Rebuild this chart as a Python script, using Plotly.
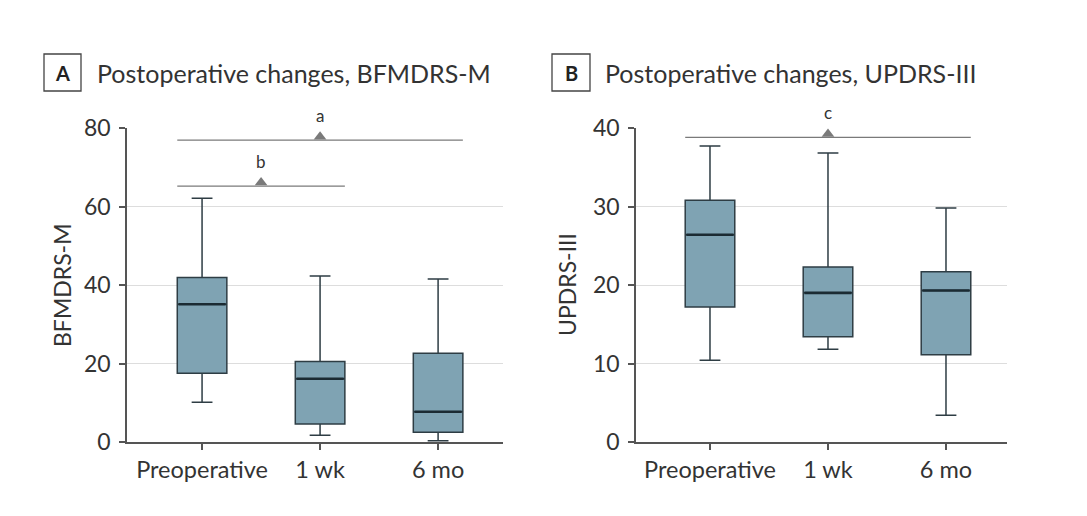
import plotly.graph_objects as go

# ---------------- data ----------------
categories = ["Preoperative", "1 wk", "6 mo"]

# Panel A: BFMDRS-M
a_lower = [10.1, 1.7, 0.3]
a_q1 = [17.5, 4.6, 2.5]
a_median = [35.1, 16.1, 7.7]
a_q3 = [41.9, 20.5, 22.6]
a_upper = [62.1, 42.3, 41.5]

# Panel B: UPDRS-III
b_lower = [10.4, 11.8, 3.4]
b_q1 = [17.2, 13.4, 11.1]
b_median = [26.4, 19.0, 19.3]
b_q3 = [30.8, 22.3, 21.7]
b_upper = [37.7, 36.8, 29.8]

a_ticks = [0, 20, 40, 60, 80]
b_ticks = [0, 10, 20, 30, 40]

# significance brackets: (label, y level, x start, x end, triangle x)
a_sig = [("a", 76.9, -0.21, 2.21, 1.0), ("b", 65.2, -0.21, 1.21, 0.5)]
b_sig = [("c", 38.8, -0.21, 2.21, 1.0)]

# ---------------- style ----------------
FONT = "Lato"
TXT = "#333333"
FILL = "#7fa3b3"
EDGE = "#2e3d44"
MED = "#1b2b33"
GRID = "#dddddd"
AXIS = "#555555"
SIG = "#7a7a7a"
BOXW = 0.42

W, H = 1087, 516
ML, MR, MT, MB = 127, 80, 128, 74
PW = W - ML - MR
PH = H - MT - MB
domA = [0, 376 / PW]
domB = [509 / PW, 1]

fig = go.Figure()
xs = list(range(len(categories)))


def add_panel(xa, ya, lo, q1, med, q3, up):
    fig.add_trace(go.Box(
        x=xs, q1=q1, median=med, q3=q3, lowerfence=lo, upperfence=up,
        xaxis=xa, yaxis=ya, width=BOXW, whiskerwidth=0.42,
        fillcolor=FILL, line=dict(color=EDGE, width=1.5),
        boxpoints=False, showlegend=False, hoverinfo="skip"))
    for i, m in enumerate(med):
        fig.add_trace(go.Scatter(
            x=[xs[i] - BOXW / 2 + 0.01, xs[i] + BOXW / 2 - 0.01], y=[m, m],
            mode="lines", line=dict(color=MED, width=2.6),
            xaxis=xa, yaxis=ya, showlegend=False, hoverinfo="skip"))


add_panel("x", "y", a_lower, a_q1, a_median, a_q3, a_upper)
add_panel("x2", "y2", b_lower, b_q1, b_median, b_q3, b_upper)


def add_sig(sig, xa, ya, ymax):
    ppu = PH / ymax
    for lab, yv, x0, x1, xt in sig:
        fig.add_shape(type="line", x0=x0, x1=x1, y0=yv, y1=yv,
                      xref=xa, yref=ya, line=dict(color=SIG, width=1.3))
        fig.add_trace(go.Scatter(
            x=[xt], y=[yv + 3.5 / ppu], mode="markers",
            marker=dict(symbol="triangle-up", size=11, color=SIG),
            xaxis=xa, yaxis=ya, cliponaxis=False,
            showlegend=False, hoverinfo="skip"))
        # label position in axis-domain fraction (may lie above the plot area)
        fig.add_annotation(x=xt, y=(yv + 25 / ppu) / ymax, xref=xa, yref=ya + " domain",
                           text=lab, showarrow=False, yanchor="middle",
                           font=dict(family=FONT, size=17, color=TXT))


add_sig(a_sig, "x", "y", 80)
add_sig(b_sig, "x2", "y2", 40)

xax = dict(tickmode="array", tickvals=xs, ticktext=categories,
           showline=True, linecolor=AXIS, linewidth=1.5,
           ticks="outside", ticklen=6, tickcolor=AXIS, tickwidth=1.5,
           showgrid=False, zeroline=False,
           tickfont=dict(family=FONT, size=23.5, color=TXT))
yax = dict(showline=True, linecolor=AXIS, linewidth=1.5,
           ticks="outside", ticklen=6, tickcolor=AXIS, tickwidth=1.5,
           showgrid=True, gridcolor=GRID, gridwidth=1.2, zeroline=False,
           ticklabelstandoff=4,
           tickfont=dict(family=FONT, size=23, color=TXT))

fig.update_layout(
    width=W, height=H, autosize=False,
    margin=dict(l=ML, r=MR, t=MT, b=MB),
    plot_bgcolor="white", paper_bgcolor="white",
    xaxis=dict(xax, domain=domA, range=[-0.636, 2.55], anchor="y"),
    yaxis=dict(yax, domain=[0, 1], range=[0, 80], tickvals=a_ticks, anchor="x"),
    xaxis2=dict(xax, domain=domB, range=[-0.627, 2.517], anchor="y2"),
    yaxis2=dict(yax, domain=[0, 1], range=[0, 40], tickvals=b_ticks, anchor="x2"),
)


def px(xp):
    return (xp - ML) / PW


def py(yp):
    return (H - MB - yp) / PH


# Panel headers
for letter, bx0, bx1, title, tx in [("A", 44, 81, "Postoperative changes, BFMDRS-M", 95),
                                    ("B", 552, 590, "Postoperative changes, UPDRS-III", 603)]:
    fig.add_shape(type="rect", xref="paper", yref="paper",
                  x0=px(bx0), x1=px(bx1), y0=py(91), y1=py(54),
                  line=dict(color="#444444", width=1.3), fillcolor="white")
    fig.add_annotation(xref="paper", yref="paper", x=px((bx0 + bx1) / 2), y=py(73),
                       text="<b>" + letter + "</b>", showarrow=False,
                       xanchor="center", yanchor="middle",
                       font=dict(family=FONT, size=20, color="#222222"))
    fig.add_annotation(xref="paper", yref="paper", x=px(tx), y=py(73),
                       text=title, showarrow=False, xanchor="left", yanchor="middle",
                       font=dict(family=FONT, size=25, color=TXT))

# y-axis titles
for txt, xpos in [("BFMDRS-M", 62), ("UPDRS-III", 567)]:
    fig.add_annotation(xref="paper", yref="paper", x=px(xpos), y=py(285),
                       text=txt, textangle=-90, showarrow=False,
                       xanchor="center", yanchor="middle",
                       font=dict(family=FONT, size=23, color=TXT))

fig.write_html("out.html")
